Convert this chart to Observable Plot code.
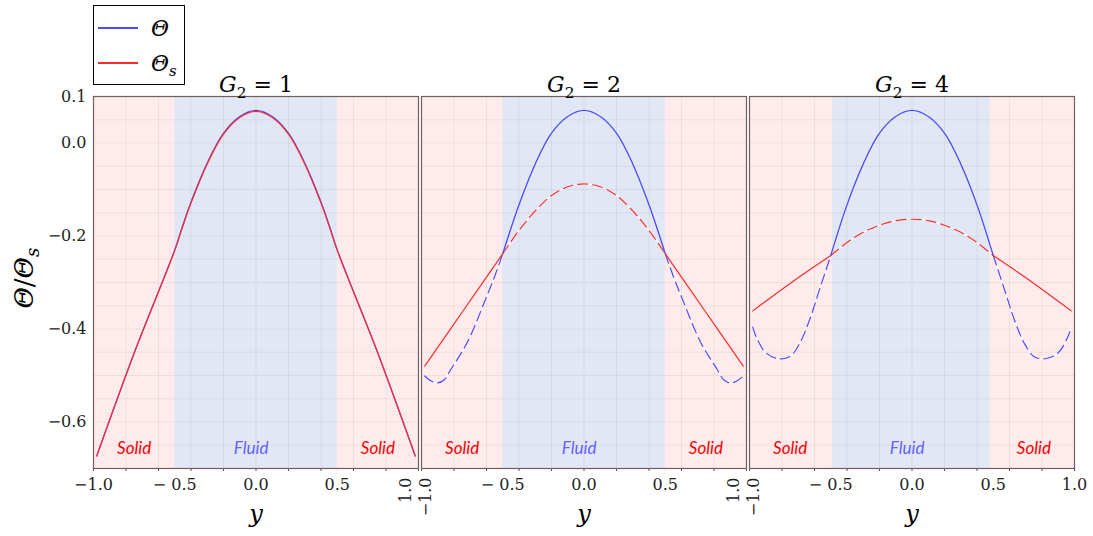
<!DOCTYPE html>
<html>
<head>
<meta charset="utf-8">
<script src="https://cdn.jsdelivr.net/npm/d3@7"></script>
<script src="https://cdn.jsdelivr.net/npm/@observablehq/plot@0.6"></script>
<style>
  body { margin: 0; background: #fff; }
  #wrap { position: relative; width: 1093px; height: 536px; }
  #legend { position: absolute; left: 93px; top: 5px; width: 92px; height: 80px; box-sizing: border-box;
            border: 1.5px solid #000; background: #fff; z-index: 2; font-family: "DejaVu Serif"; }
  #legend .ln { position: absolute; left: 4px; width: 40px; height: 1.5px; }
  #legend .lab { position: absolute; left: 57px; font-size: 22px; line-height: 1; font-style: italic; white-space: nowrap; }
  #legend .lab sub { font-size: 15px; vertical-align: -5px; }
</style>
</head>
<body>
<div id="wrap">
  <div id="legend">
    <div class="ln" style="top:21px;background:#4a4aff"></div>
    <div class="lab" style="top:12px">Θ</div>
    <div class="ln" style="top:56px;background:#ff2b2b"></div>
    <div class="lab" style="top:47px">Θ<sub>s</sub></div>
  </div>
  <div id="chart"></div>
</div>
<script>
// ---------- data ----------
const panels = ["1", "2", "4"];                 // G2 values

// G2 = 1 : full profile (fluid and solid coincide)
const yProfileG1 = [-0.98, -0.75, -0.5, -0.45, -0.4, -0.3, -0.2, -0.1, 0, 0.1, 0.2, 0.3, 0.4, 0.45, 0.5, 0.75, 0.98];
const thetaG1    = [-0.673, -0.452, -0.230, -0.177, -0.127, -0.043, 0.021, 0.057, 0.070, 0.057, 0.021, -0.043, -0.127, -0.177, -0.230, -0.452, -0.673];
const thetaSG1   = [-0.673, -0.452, -0.231, -0.178, -0.129, -0.045, 0.019, 0.055, 0.068, 0.055, 0.019, -0.045, -0.129, -0.178, -0.231, -0.452, -0.673];

// fluid layer positions
const yFluid = [-0.5, -0.4, -0.3, -0.2, -0.1, 0, 0.1, 0.2, 0.3, 0.4, 0.5];

// G2 = 2
const thetaFluidG2  = [-0.238, -0.133, -0.045, 0.021, 0.057, 0.070, 0.057, 0.021, -0.045, -0.133, -0.238];
const thetaSFluidG2 = [-0.238, -0.188, -0.146, -0.113, -0.094, -0.088, -0.094, -0.113, -0.146, -0.188, -0.238];
const yWallG2L = [-0.98, -0.94, -0.90, -0.86, -0.82, -0.72, -0.60, -0.55, -0.50];
const yWallG2R = [0.50, 0.55, 0.60, 0.72, 0.82, 0.86, 0.90, 0.94, 0.98];
const thetaWallG2L = [-0.501, -0.512, -0.516, -0.509, -0.487, -0.430, -0.331, -0.287, -0.238];
const thetaWallG2R = [-0.238, -0.287, -0.331, -0.430, -0.487, -0.509, -0.516, -0.512, -0.501];
const ySWallG2L = [-0.98, -0.75, -0.5];
const ySWallG2R = [0.5, 0.75, 0.98];
const thetaSWallG2L = [-0.480, -0.364, -0.238];
const thetaSWallG2R = [-0.238, -0.364, -0.480];

// G2 = 4
const thetaFluidG4  = [-0.242, -0.133, -0.045, 0.021, 0.057, 0.070, 0.057, 0.021, -0.045, -0.133, -0.242];
const thetaSFluidG4 = [-0.242, -0.214, -0.192, -0.177, -0.167, -0.164, -0.167, -0.177, -0.192, -0.214, -0.242];
const yWallG4L = [-0.98, -0.96, -0.90, -0.82, -0.75, -0.69, -0.63, -0.57, -0.50];
const yWallG4R = [0.50, 0.57, 0.63, 0.69, 0.75, 0.82, 0.90, 0.96, 0.98];
const thetaWallG4L = [-0.396, -0.416, -0.451, -0.464, -0.459, -0.430, -0.380, -0.316, -0.242];
const thetaWallG4R = [-0.242, -0.316, -0.380, -0.430, -0.459, -0.464, -0.451, -0.416, -0.396];
const ySWallG4L = [-0.98, -0.75, -0.5];
const ySWallG4R = [0.5, 0.75, 0.98];
const thetaSWallG4L = [-0.361, -0.302, -0.242];
const thetaSWallG4R = [-0.242, -0.302, -0.361];

// regions
const solidSpan = [-1, 1];
const fluidSpans = [[-0.5, 0.5], [-0.5, 0.5], [-0.49, 0.48]];
const yDomain = [-0.7, 0.1];

// ticks / labels
const yTickValues = [0.1, 0, -0.2, -0.4, -0.6];
const yTickLabels = ["0.1", "0.0", "−0.2", "−0.4", "−0.6"];
const xTickValues = [-1, -0.5, 0, 0.5, 1];
const xTickLabels = ["−1.0", "− 0.5", "0.0", "0.5", "1.0"];
const xTickVertical = [
  [false, false, false, false, true],
  [true, false, false, false, true],
  [true, false, false, false, false]
];
const xGrid = [-0.8, -0.6, -0.4, -0.2, 0, 0.2, 0.4, 0.6, 0.8];
const xMinorTicks = [-1, -0.8, -0.6, -0.4, -0.2, 0, 0.2, 0.4, 0.6, 0.8, 1];
const yGrid = [0.05, 0, -0.05, -0.1, -0.15, -0.2, -0.25, -0.3, -0.35, -0.4, -0.45, -0.5, -0.55, -0.6, -0.65];
const regionLabelX = [-0.75, -0.03, 0.75];
const regionLabelText = ["Solid", "Fluid", "Solid"];
const regionLabelColor = ["#ff0000", "#6262ff", "#ff0000"];

const BLUE = "#4a4aff", RED = "#ff2b2b";

// ---------- build tables ----------
const rows = [];
function add(panel, series, ys, vals) { ys.forEach((p, i) => rows.push({panel, series, pos: p, val: vals[i]})); }
add("1", "theta-all", yProfileG1, thetaG1);
add("1", "thetaS-all", yProfileG1, thetaSG1);
add("2", "theta-fluid", yFluid, thetaFluidG2);
add("2", "thetaS-fluid", yFluid, thetaSFluidG2);
add("2", "theta-wallL", yWallG2L, thetaWallG2L);
add("2", "theta-wallR", yWallG2R, thetaWallG2R);
add("2", "thetaS-wallL", ySWallG2L, thetaSWallG2L);
add("2", "thetaS-wallR", ySWallG2R, thetaSWallG2R);
add("4", "theta-fluid", yFluid, thetaFluidG4);
add("4", "thetaS-fluid", yFluid, thetaSFluidG4);
add("4", "theta-wallL", yWallG4L, thetaWallG4L);
add("4", "theta-wallR", yWallG4R, thetaWallG4R);
add("4", "thetaS-wallL", ySWallG4L, thetaSWallG4L);
add("4", "thetaS-wallR", ySWallG4R, thetaSWallG4R);

const blueDashed = rows.filter(d => d.series.startsWith("theta-wall"));
const blueSolid  = rows.filter(d => d.series === "theta-fluid" || d.series === "theta-all");
const redDashed  = rows.filter(d => d.series === "thetaS-fluid");
const redSolid   = rows.filter(d => d.series.startsWith("thetaS-wall") || d.series === "thetaS-all");
const key = d => d.panel + d.series;

const bg = panels.map((p, i) => ({panel: p, x1: solidSpan[0], x2: solidSpan[1], f1: fluidSpans[i][0], f2: fluidSpans[i][1], y1: yDomain[0], y2: yDomain[1]}));
const titles = panels.map(p => ({panel: p, label: `G_2 = ${p}`}));
const regionLabels = regionLabelX.map((x, i) => ({x, label: regionLabelText[i], color: regionLabelColor[i]}));
const yTicks = yTickValues.map((v, i) => ({panel: panels[0], v, label: yTickLabels[i]}));
const xTicks = [];
panels.forEach((p, pi) => xTickValues.forEach((v, i) => {
  if (pi > 0 && v === -1 && !xTickVertical[pi][i]) return;
  xTicks.push({panel: p, v, label: xTickLabels[i], vertical: xTickVertical[pi][i]});
}));
const xUpright = xTicks.filter(d => !d.vertical);
const xVertLeft = xTicks.filter(d => d.vertical && d.v < 0);
const xVertRight = xTicks.filter(d => d.vertical && d.v > 0);

const SERIF = "DejaVu Serif";

const chart = Plot.plot({
  width: 1093, height: 536,
  marginLeft: 93, marginRight: 19, marginTop: 96, marginBottom: 68,
  style: {background: "transparent", fontFamily: SERIF},
  fx: {domain: panels, paddingInner: 0.01, paddingOuter: 0, axis: null, label: null},
  x: {domain: [-1, 1], axis: null, label: null},
  y: {domain: yDomain, axis: null, label: null},
  marks: [
    Plot.rect(bg, {fx: "panel", x1: "x1", x2: "x2", y1: "y1", y2: "y2", fill: "#ffebeb"}),
    Plot.rect(bg, {fx: "panel", x1: "f1", x2: "f2", y1: "y1", y2: "y2", fill: "#e1e7f4"}),
    Plot.gridX(xGrid, {stroke: "#888", strokeOpacity: 0.13}),
    Plot.gridY(yGrid, {stroke: "#888", strokeOpacity: 0.13}),
    Plot.axisX({ticks: xMinorTicks, anchor: "bottom", tickSize: 3, tickFormat: () => "", label: null, stroke: "#555"}),
    // white underlay for dashes
    Plot.line(blueDashed.concat(redDashed), {fx: "panel", x: "pos", y: "val", z: key, stroke: "#fff", strokeWidth: 1.3, curve: "catmull-rom"}),
    Plot.line(blueDashed, {fx: "panel", x: "pos", y: "val", z: key, stroke: BLUE, strokeWidth: 1.2, strokeDasharray: "10,5", curve: "catmull-rom"}),
    Plot.line(redDashed, {fx: "panel", x: "pos", y: "val", z: key, stroke: RED, strokeWidth: 1.2, strokeDasharray: "10,5", curve: "catmull-rom"}),
    Plot.line(blueSolid, {fx: "panel", x: "pos", y: "val", z: key, stroke: BLUE, strokeWidth: 1.3, curve: "catmull-rom"}),
    Plot.line(redSolid, {fx: "panel", x: "pos", y: "val", z: key, stroke: RED, strokeWidth: 1.2, curve: "catmull-rom"}),
    Plot.frame({stroke: "#6f5f5f", strokeWidth: 1.2}),
    // region labels
    Plot.text(regionLabels, {x: "x", frameAnchor: "bottom", dy: -15, text: "label", fill: "color",
      fontFamily: "Lato", fontStyle: "italic", fontSize: 17}),
    // titles
    Plot.text(titles, {fx: "panel", frameAnchor: "top", dy: -20, text: "label", fontSize: 22, fontFamily: SERIF, fill: "#000"}),
    // y tick labels
    Plot.text(yTicks, {fx: "panel", y: "v", frameAnchor: "left", dx: -7, textAnchor: "end", text: "label", fontSize: 16, fontFamily: SERIF, fill: "#222"}),
    // x tick labels
    Plot.text(xUpright, {fx: "panel", x: "v", frameAnchor: "bottom", dy: 21, text: "label", fontSize: 16, fontFamily: SERIF, fill: "#222"}),
    Plot.text(xVertLeft, {fx: "panel", x: "v", frameAnchor: "bottom", dy: 9, dx: 9, rotate: -90, textAnchor: "end", text: "label", fontSize: 16, fontFamily: SERIF, fill: "#222"}),
    Plot.text(xVertRight, {fx: "panel", x: "v", frameAnchor: "bottom", dy: 9, dx: -8, rotate: -90, textAnchor: "end", text: "label", fontSize: 16, fontFamily: SERIF, fill: "#222"}),
    // axis titles
    Plot.text(panels, {fx: d => d, frameAnchor: "bottom", dy: 53, text: () => "y", fontSize: 24, fontFamily: SERIF, fontStyle: "italic", fill: "#000"}),
    Plot.text([panels[0]], {fx: d => d, frameAnchor: "left", dx: -69, dy: 26, rotate: -90, text: () => "Θ/Θ_s", fontSize: 26, fontFamily: SERIF, fill: "#000"})
  ]
});
document.getElementById("chart").appendChild(chart);

// ---------- math-style text (italic symbols, subscripts) ----------
const NS = "http://www.w3.org/2000/svg";
function rewrite(el, parts, fs) {
  el.textContent = "";
  el.style.whiteSpace = "pre";
  let shifted = false;
  for (const [t, kinds] of parts) {
    const ts = document.createElementNS(NS, "tspan");
    ts.textContent = t;
    if (kinds.includes("italic")) ts.setAttribute("font-style", "italic");
    if (kinds.includes("sub")) { ts.setAttribute("font-size", fs * 0.7); ts.setAttribute("dy", fs * 0.25); shifted = true; }
    else if (shifted) { ts.setAttribute("dy", -fs * 0.25); shifted = false; }
    el.appendChild(ts);
  }
}
chart.querySelectorAll("text").forEach(el => {
  const s = el.textContent;
  const m = s.match(/^G_2 = (\d+)$/);
  if (m) rewrite(el, [["G", ["italic"]], ["2", ["sub"]], [" = " + m[1], []]], 22);
  else if (s === "Θ/Θ_s") rewrite(el, [["Θ", ["italic"]], ["/", []], ["Θ", ["italic"]], ["s", ["italic", "sub"]]], 26);
});
</script>
</body>
</html>
